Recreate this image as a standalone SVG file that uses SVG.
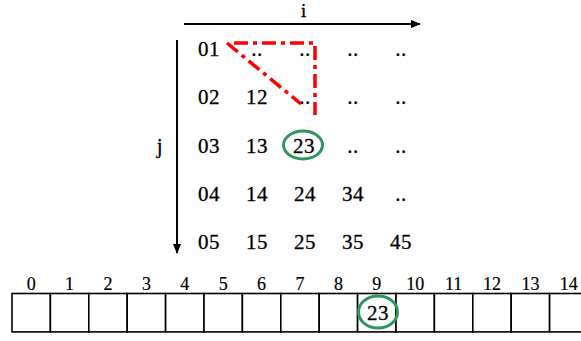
<svg xmlns="http://www.w3.org/2000/svg" width="581" height="341" viewBox="0 0 581 341">
<style>
.t{font-family:"Liberation Serif","DejaVu Serif",serif;font-size:21px;fill:#000;stroke:#000;stroke-width:0.3;text-anchor:middle;letter-spacing:0.5px}
.n{font-family:"Liberation Serif","DejaVu Serif",serif;font-size:18px;fill:#000;stroke:#000;stroke-width:0.2;text-anchor:middle}
.ax{stroke:#000;stroke-width:2;fill:none}
.red{stroke:#f00;stroke-width:3.5;fill:none;stroke-dasharray:14 5 4 5}
.g{stroke:#2e9460;stroke-width:3;fill:none}
.c{fill:#fff;stroke:#000;stroke-width:1.6}
</style>
<defs>
<marker id="ah" markerWidth="10" markerHeight="8" refX="9" refY="4" orient="auto" markerUnits="userSpaceOnUse">
<path d="M0,0 L10,4 L0,8 Z" fill="#000"/>
</marker>
</defs>
<g id="axes">
<line class="ax" x1="184" y1="24" x2="420" y2="24" marker-end="url(#ah)"/>
<text class="t" x="304" y="17" style="font-size:19px">i</text>
<line class="ax" x1="177" y1="40" x2="177" y2="253" marker-end="url(#ah)"/>
<text class="t" x="160" y="153">j</text>
</g>
<g id="matrix">
<text class="t" x="209" y="56">01</text><text class="t" x="257" y="56">..</text><text class="t" x="305" y="56">..</text><text class="t" x="353" y="56">..</text><text class="t" x="401" y="56">..</text>
<text class="t" x="209" y="104">02</text><text class="t" x="257" y="104">12</text><text class="t" x="305" y="104">..</text><text class="t" x="353" y="104">..</text><text class="t" x="401" y="104">..</text>
<text class="t" x="209" y="153">03</text><text class="t" x="257" y="153">13</text><text class="t" x="304" y="153">23</text><text class="t" x="353" y="153">..</text><text class="t" x="401" y="153">..</text>
<text class="t" x="209" y="201">04</text><text class="t" x="257" y="201">14</text><text class="t" x="305" y="201">24</text><text class="t" x="353" y="201">34</text><text class="t" x="401" y="201">..</text>
<text class="t" x="209" y="249">05</text><text class="t" x="257" y="249">15</text><text class="t" x="305" y="249">25</text><text class="t" x="353" y="249">35</text><text class="t" x="401" y="249">45</text>
</g>
<g id="connectors">
<path class="red" d="M234,43 L315,43 L315,115"/>
<path class="red" d="M227,43 L301,104"/>
<ellipse class="g" cx="303" cy="145" rx="19.5" ry="14"/>
</g>
<g id="array">
<rect class="c" x="12" y="293.5" width="38.4" height="38.4"/>
<rect class="c" x="50.4" y="293.5" width="38.4" height="38.4"/>
<rect class="c" x="88.8" y="293.5" width="38.4" height="38.4"/>
<rect class="c" x="127.2" y="293.5" width="38.4" height="38.4"/>
<rect class="c" x="165.6" y="293.5" width="38.4" height="38.4"/>
<rect class="c" x="204" y="293.5" width="38.4" height="38.4"/>
<rect class="c" x="242.4" y="293.5" width="38.4" height="38.4"/>
<rect class="c" x="280.8" y="293.5" width="38.4" height="38.4"/>
<rect class="c" x="319.2" y="293.5" width="38.4" height="38.4"/>
<rect class="c" x="357.6" y="293.5" width="38.4" height="38.4"/>
<rect class="c" x="396" y="293.5" width="38.4" height="38.4"/>
<rect class="c" x="434.4" y="293.5" width="38.4" height="38.4"/>
<rect class="c" x="472.8" y="293.5" width="38.4" height="38.4"/>
<rect class="c" x="511.2" y="293.5" width="38.4" height="38.4"/>
<rect class="c" x="549.6" y="293.5" width="38.4" height="38.4"/>
<text class="n" x="31.2" y="290">0</text>
<text class="n" x="69.6" y="290">1</text>
<text class="n" x="108" y="290">2</text>
<text class="n" x="146.4" y="290">3</text>
<text class="n" x="184.8" y="290">4</text>
<text class="n" x="223.2" y="290">5</text>
<text class="n" x="261.6" y="290">6</text>
<text class="n" x="300" y="290">7</text>
<text class="n" x="338.4" y="290">8</text>
<text class="n" x="376.8" y="290">9</text>
<text class="n" x="415.2" y="290">10</text>
<text class="n" x="453.6" y="290">11</text>
<text class="n" x="492" y="290">12</text>
<text class="n" x="530.4" y="290">13</text>
<text class="n" x="568.8" y="290">14</text>
<text class="t" x="378" y="320">23</text>
<ellipse class="g" cx="378" cy="312" rx="19.5" ry="16"/>
</g>
</svg>
